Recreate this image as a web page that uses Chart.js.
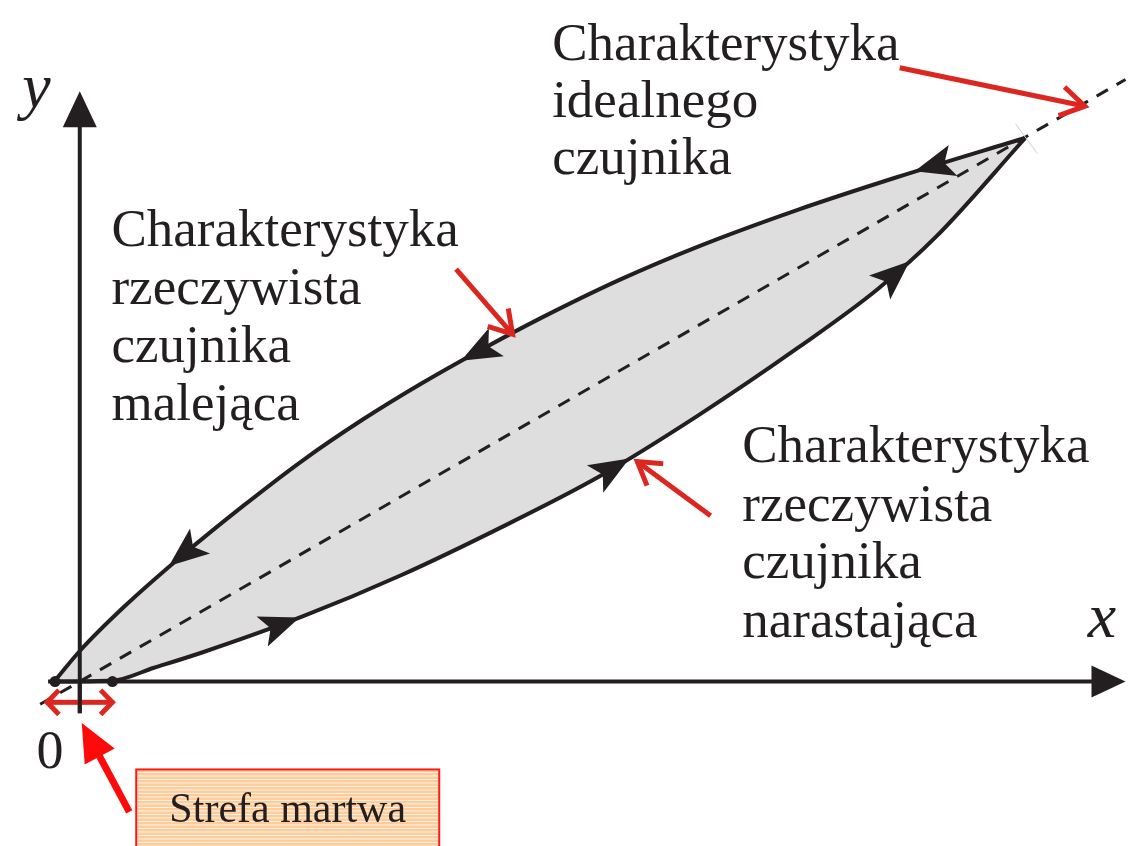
<!DOCTYPE html>
<html><head><meta charset="utf-8">
<script src="https://cdn.jsdelivr.net/npm/chart.js@4"></script>
<style>html,body{margin:0;padding:0;background:#fff}#wrap{width:1131px;height:846px;position:relative}</style>
</head><body><div id="wrap"><canvas id="c"></canvas></div>
<script>
// ---- data (units: x to the right of the origin, y above it) ----
const fallingX = [-25, 0, 45, 105, 165, 225, 285, 345, 405, 465, 545, 625, 725, 825, 955];
const fallingY = [1, 31, 76, 129, 178, 224, 265, 302, 336, 368, 407, 441, 478, 511, 551];
const risingX  = [-25, 33, 75, 125, 225, 325, 425, 525, 625, 725, 805, 865, 955];
const risingY  = [0, 1, 14, 30, 66, 108, 156, 208, 270, 338, 397, 451, 551];
const idealX   = [-40, 1056];
const idealY   = [-23, 610];
const deadZoneX = [-25, 33];
const deadZoneY = [0, 0];
const xAxisX = [-32, 1024]; const xAxisY = [0, 0];
const yAxisX = [0, 0];      const yAxisY = [-32, 566];

const labelsIdeal   = ["Charakterystyka", "idealnego", "czujnika"];
const labelsFalling = ["Charakterystyka", "rzeczywista", "czujnika", "malejąca"];
const labelsRising  = ["Charakterystyka", "rzeczywista", "czujnika", "narastająca"];
const labelX = "x", labelY = "y", labelZero = "0", labelDead = "Strefa martwa";

const pts = (xs, ys) => xs.map((x, i) => ({x, y: ys[i]}));

const BLACK = '#231F20', RED = '#DC2620';
const FONT = '"Liberation Serif", "Times New Roman", serif';

const decor = {
  id: 'decor',
  afterDatasetsDraw(chart) {
    const ctx = chart.ctx, sx = chart.scales.x, sy = chart.scales.y;
    const P = (x, y) => [sx.getPixelForValue(x), sy.getPixelForValue(y)];
    ctx.save();

    function head(tip, base, len, hw, notch, color) {
      const [tx, ty] = P(...tip), [bx, by] = P(...base);
      let dx = tx - bx, dy = ty - by; const d = Math.hypot(dx, dy); dx /= d; dy /= d;
      const cx = tx - dx * len, cy = ty - dy * len;
      ctx.beginPath();
      ctx.moveTo(tx, ty);
      ctx.lineTo(cx - dy * hw, cy + dx * hw);
      ctx.lineTo(cx + dx * notch, cy + dy * notch);
      ctx.lineTo(cx + dy * hw, cy - dx * hw);
      ctx.closePath();
      ctx.fillStyle = color; ctx.fill();
    }
    // curve direction arrows
    [[[843,517],[875,526]], [[385,325],[417,342]], [[90,117],[116,138]],
     [[222,65],[190,53]], [[555,226],[525,208]], [[838,426],[812,403]]]
      .forEach(a => head(a[0], a[1], 40, 16, 9, BLACK));
    // axis arrowheads
    head([0, 598], [0, 560], 36, 17, 0, BLACK);
    head([1056, 0], [1020, 0], 34, 16, 0, BLACK);

    function chevron(from, to, color, w, arm, ang) {
      const [fx, fy] = P(...from), [tx, ty] = P(...to);
      const a = Math.atan2(ty - fy, tx - fx);
      ctx.strokeStyle = color; ctx.lineWidth = w; ctx.lineCap = 'butt'; ctx.lineJoin = 'miter';
      ctx.beginPath(); ctx.moveTo(fx, fy); ctx.lineTo(tx - Math.cos(a) * 2, ty - Math.sin(a) * 2); ctx.stroke();
      ctx.beginPath();
      ctx.moveTo(tx - arm * Math.cos(a - ang), ty - arm * Math.sin(a - ang));
      ctx.lineTo(tx, ty);
      ctx.lineTo(tx - arm * Math.cos(a + ang), ty - arm * Math.sin(a + ang));
      ctx.stroke();
    }
    chevron([828, 622], [1015, 583], RED, 5, 28, 0.55);
    chevron([380, 418], [437, 352], RED, 5, 26, 0.55);
    chevron([637, 168], [563, 223], RED, 5, 26, 0.55);
    chevron([0, -21], [-33, -21], RED, 5, 17, 0.8);
    chevron([0, -21], [33, -21], RED, 5, 17, 0.8);

    {
      const [fx, fy] = P(50, -132), [tx, ty] = P(2, -42);
      const a = Math.atan2(ty - fy, tx - fx);
      ctx.strokeStyle = '#FF0A0A'; ctx.lineWidth = 7;
      ctx.beginPath(); ctx.moveTo(fx, fy); ctx.lineTo(tx - Math.cos(a) * 30, ty - Math.sin(a) * 30); ctx.stroke();
      head([2, -42], [50, -132], 38, 17, 0, '#FF0A0A');
    }

    {
      const [ax, ay] = P(0, -32), [bx, by] = P(0, 0);
      ctx.strokeStyle = BLACK; ctx.lineWidth = 4;
      ctx.beginPath(); ctx.moveTo(ax, ay); ctx.lineTo(bx, by); ctx.stroke();
    }

    {
      const [ax, ay] = P(945, 565), [bx, by] = P(967, 535);
      ctx.strokeStyle = '#cfcfcf'; ctx.lineWidth = 1;
      ctx.beginPath(); ctx.moveTo(ax, ay); ctx.lineTo(bx, by); ctx.stroke();
    }

    {
      const [x0, y0] = P(57, -89), [x1, y1] = P(363, -170);
      ctx.fillStyle = '#FFCB98';
      ctx.fillRect(x0, y0, x1 - x0, y1 - y0);
      ctx.strokeStyle = 'rgba(255,255,255,0.8)'; ctx.lineWidth = 1;
      for (let y = y0 + 3; y < y1; y += 3.5) {
        ctx.beginPath(); ctx.moveTo(x0, y); ctx.lineTo(x1, y); ctx.stroke();
      }
      ctx.strokeStyle = '#FF1A1A'; ctx.lineWidth = 2;
      ctx.strokeRect(x0, y0, x1 - x0, y1 - y0);
      ctx.fillStyle = BLACK; ctx.font = '42px ' + FONT; ctx.textAlign = 'center'; ctx.textBaseline = 'alphabetic';
      const [tx, ty] = P(210, -142);
      ctx.fillText(labelDead, tx, ty);
    }

    ctx.fillStyle = BLACK; ctx.textAlign = 'left'; ctx.textBaseline = 'alphabetic';
    ctx.font = '53px ' + FONT;
    const block = (lines, x, ys) => lines.forEach((t, i) => { const [px, py] = P(x, ys[i]); ctx.fillText(t, px, py); });
    block(labelsIdeal, 477, [630, 572, 514]);
    block(labelsFalling, 32, [441, 383, 324, 265]);
    block(labelsRising, 669, [222, 163, 105, 45]);

    ctx.font = 'italic 64px ' + FONT;
    let p = P(1018, 45); ctx.fillText(labelX, p[0], p[1]);
    p = P(-58, 582); ctx.fillText(labelY, p[0], p[1]);
    ctx.font = '54px ' + FONT; ctx.textAlign = 'center';
    p = P(-30, -88); ctx.fillText(labelZero, p[0], p[1]);

    ctx.restore();
  }
};

new Chart(document.getElementById('c'), {
  type: 'scatter',
  data: {
    datasets: [
      { label: 'malejąca', data: pts(fallingX, fallingY), showLine: true, cubicInterpolationMode: 'monotone',
        borderColor: BLACK, borderWidth: 4, pointRadius: 0, fill: '+1', backgroundColor: '#DEDEDE', order: 2 },
      { label: 'narastająca', data: pts(risingX, risingY), showLine: true, cubicInterpolationMode: 'monotone',
        borderColor: BLACK, borderWidth: 4, pointRadius: 0, fill: false, order: 2 },
      { label: 'idealna', data: pts(idealX, idealY), showLine: true, borderColor: BLACK, borderWidth: 3,
        borderDash: [13, 10], pointRadius: 0, fill: false, order: 3 },
      { label: 'oś x', data: pts(xAxisX, xAxisY), showLine: true, borderColor: BLACK, borderWidth: 4, pointRadius: 0, order: 1 },
      { label: 'oś y', data: pts(yAxisX, yAxisY), showLine: true, borderColor: BLACK, borderWidth: 4, pointRadius: 0, order: 1 },
      { label: 'strefa', data: pts(deadZoneX, deadZoneY), showLine: false, pointRadius: 5.5, pointBackgroundColor: BLACK,
        pointBorderWidth: 0, order: 0 }
    ]
  },
  options: {
    responsive: true, maintainAspectRatio: false, animation: false, devicePixelRatio: 1,
    layout: { padding: 0 },
    clip: false,
    events: [],
    scales: {
      x: { type: 'linear', min: -75, max: 1056, display: false },
      y: { type: 'linear', min: -161, max: 685, display: false }
    },
    plugins: { legend: { display: false }, tooltip: { enabled: false }, filler: { drawTime: 'beforeDatasetsDraw' } }
  },
  plugins: [decor]
});
</script></body></html>
